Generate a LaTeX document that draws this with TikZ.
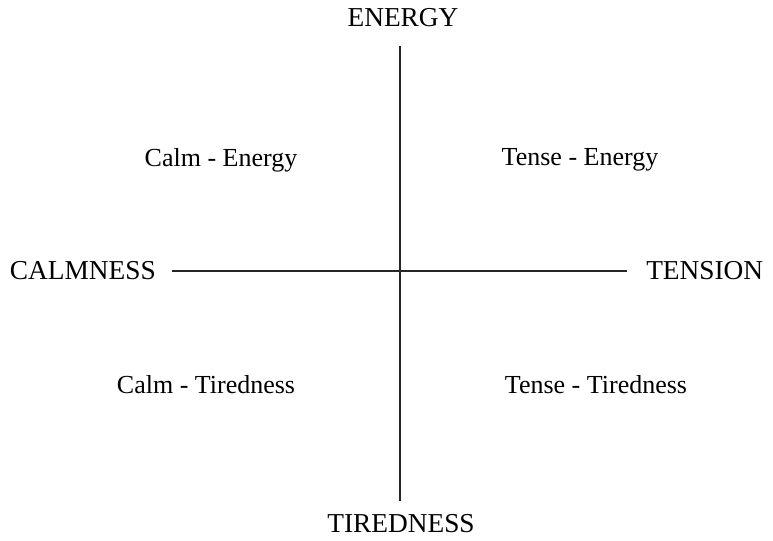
\documentclass[tikz,border=0pt]{standalone}
\usepackage{fontspec}
\setmainfont{Liberation Serif}
\usetikzlibrary{positioning}

\begin{document}
\begin{tikzpicture}[x=0.75pt, y=-0.75pt,
  axislabel/.style={font=\fontsize{20.5}{23}\selectfont, inner sep=0pt},
  quadlabel/.style={font=\fontsize{19.5}{22}\selectfont, inner sep=0pt},
  axis/.style={line width=1.9pt, draw=black!85}]
\useasboundingbox (0,0) rectangle (773,541);

% axes ends
\coordinate (top) at (400,46);
\coordinate (bottom) at (400,501);
\coordinate (left) at (172,271);
\coordinate (right) at (627,271);

\node[axislabel] (energy) at (403,18) {ENERGY};
\node[axislabel] (tired) at (401,524) {TIREDNESS};
\node[axislabel, anchor=east] (calm) at (156,271) {CALMNESS};
\node[axislabel, anchor=west] (tension) at (646,271) {TENSION};

\node[quadlabel] (ce) at (221,160) {Calm - Energy};
\node[quadlabel] (te) at (580,160) {Tense - Energy};
\node[quadlabel] (ct) at (206,385) {Calm - Tiredness};
\node[quadlabel] (tt) at (596,385) {Tense - Tiredness};

\draw[axis] (top) -- (bottom);
\draw[axis] (left) -- (right);
\end{tikzpicture}
\end{document}
